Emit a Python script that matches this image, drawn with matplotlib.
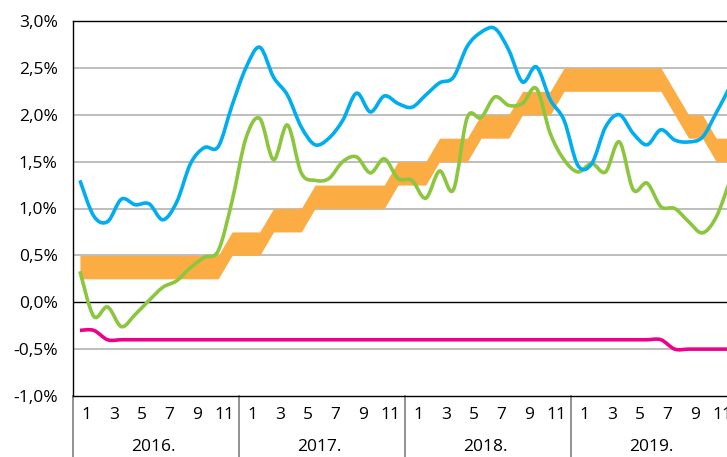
import numpy as np
import matplotlib.pyplot as plt
from matplotlib.path import Path
from matplotlib.patches import PathPatch

plt.rcParams['font.family'] = ['Open Sans', 'DejaVu Sans']

# monthly data, Jan 2016 - Dec 2019
years = ['2016.', '2017.', '2018.', '2019.']
month_labels = ['1', '3', '5', '7', '9', '11']

us_cpi = [1.30, 0.92, 0.86, 1.10, 1.04, 1.05, 0.88, 1.07, 1.48, 1.65, 1.66, 2.10,
          2.50, 2.72, 2.40, 2.21, 1.87, 1.68, 1.75, 1.94, 2.23, 2.03, 2.20, 2.12,
          2.08, 2.21, 2.34, 2.40, 2.73, 2.88, 2.92, 2.69, 2.35, 2.51, 2.16, 1.94,
          1.46, 1.48, 1.87, 2.00, 1.80, 1.68, 1.84, 1.73, 1.71, 1.76, 2.02, 2.30]

ea_hicp = [0.33, -0.15, -0.05, -0.26, -0.13, 0.02, 0.16, 0.23, 0.37, 0.48, 0.55, 1.08,
           1.75, 1.96, 1.52, 1.89, 1.38, 1.30, 1.32, 1.50, 1.55, 1.38, 1.53, 1.32,
           1.30, 1.11, 1.40, 1.20, 1.97, 1.97, 2.19, 2.10, 2.12, 2.28, 1.80, 1.52,
           1.39, 1.48, 1.39, 1.71, 1.20, 1.27, 1.02, 1.00, 0.86, 0.74, 0.91, 1.30]

fed_low = [0.25]*11 + [0.50] + \
          [0.50, 0.50, 0.75, 0.75, 0.75] + [1.00]*6 + [1.25] + \
          [1.25, 1.25, 1.50, 1.50, 1.50, 1.75, 1.75, 1.75, 2.00, 2.00, 2.00, 2.25] + \
          [2.25]*7 + [2.00, 1.75, 1.75, 1.50, 1.50]
fed_high = [v + 0.25 for v in fed_low]

ecb_depo = [-0.30, -0.30] + [-0.40]*41 + [-0.50]*5

x = np.arange(48) + 0.5


def smooth_path(xs, ys):
    pts = np.column_stack([xs, ys])
    n = len(pts)
    verts = [pts[0]]
    codes = [Path.MOVETO]
    for i in range(n - 1):
        p0 = pts[max(i - 1, 0)]
        p1 = pts[i]
        p2 = pts[i + 1]
        p3 = pts[min(i + 2, n - 1)]
        verts += [p1 + (p2 - p0) / 6, p2 - (p3 - p1) / 6, p2]
        codes += [Path.CURVE4] * 3
    return Path(verts, codes)


fig = plt.figure(figsize=(7.27, 4.57), dpi=100)
ax = fig.add_axes([73/727, 61/457, 664/727, 375/457])
ax.set_xlim(0, 48)
ax.set_ylim(-1.0, 3.0)

# gridlines
for v in [-0.5, 0.5, 1.0, 1.5, 2.0, 2.5]:
    ax.axhline(v, color='#b3b3b3', lw=1.2, zorder=0)
ax.axhline(0, color='black', lw=1.0, zorder=0)

ax.fill_between(x, fed_low, fed_high, color='#fbad44', lw=0, zorder=1)

ax.add_patch(PathPatch(smooth_path(x, ea_hicp), fill=False, ec='#8cc63f', lw=2.6, zorder=2))
ax.add_patch(PathPatch(smooth_path(x, us_cpi), fill=False, ec='#00aeef', lw=2.6, zorder=3))
ax.add_patch(PathPatch(smooth_path(x, ecb_depo), fill=False, ec='#ec008c', lw=2.6, zorder=4))

for s in ['top', 'left', 'bottom']:
    ax.spines[s].set_color('black')
    ax.spines[s].set_linewidth(1.0)
ax.spines['right'].set_visible(False)

yt = np.arange(-1.0, 3.01, 0.5)
ax.set_yticks(yt)
ax.set_yticklabels([f"{v:.1f}".replace('.', ',') + '%' for v in yt], fontsize=12.5)
ax.tick_params(axis='y', length=0, pad=11)
ax.set_xticks([])

# category axis below the plot
trans = ax.get_xaxis_transform()
for k in range(4):
    ax.plot([12*k, 12*k], [0, -0.165], transform=trans, color='#7f7f7f', lw=1.2, clip_on=False)
    for lab in month_labels:
        m = int(lab)
        ax.text(12*k + m - 1 + 0.95, -0.05, lab, transform=trans, ha='center', va='center', fontsize=12.5)
    ax.text(12*k + 5.8, -0.137, years[k], transform=trans, ha='center', va='center', fontsize=12.5)

fig.savefig('out.png', dpi=100)
